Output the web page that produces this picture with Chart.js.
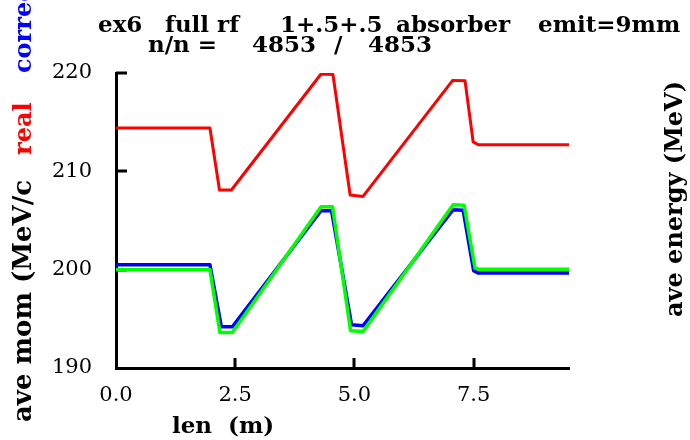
<!DOCTYPE html>
<html>
<head>
<meta charset="utf-8">
<script src="https://cdn.jsdelivr.net/npm/chart.js@4"></script>
<style>
  html, body { margin: 0; padding: 0; background: #ffffff; }
  #wrap { width: 690px; height: 440px; }
</style>
</head>
<body>
<div id="wrap"><canvas id="c" width="690" height="440"></canvas></div>
<script>
// ---- data ----
const realLen  = [0, 1.97, 2.17, 2.42, 4.30, 4.55, 4.91, 5.18, 7.06, 7.32, 7.49, 7.60, 9.5];
const realMom  = [214.4, 214.4, 208.1, 208.1, 219.9, 219.85, 207.6, 207.45, 219.25, 219.2, 213.0, 212.7, 212.7];

const corrLen  = [0, 1.97, 2.21, 2.44, 4.30, 4.52, 4.94, 5.18, 7.07, 7.28, 7.50, 7.60, 9.5];
const corrMom  = [200.5, 200.5, 194.2, 194.2, 206.0, 206.0, 194.4, 194.3, 206.1, 206.05, 199.9, 199.65, 199.65];

const enerLen  = [0, 1.97, 2.18, 2.44, 4.30, 4.54, 4.92, 5.18, 7.07, 7.30, 7.53, 7.60, 9.5];
const enerVal  = [200.0, 200.0, 193.6, 193.6, 206.4, 206.4, 193.8, 193.7, 206.6, 206.55, 200.15, 200.05, 200.05];

const xTicks = [0, 2.5, 5.0, 7.5];
const yTicks = [190, 200, 210, 220];

const titleLine1 = ["ex6", "full rf", "1+.5+.5", "absorber", "emit=9mm"];
const titleLine2 = ["n/n =", "4853", "/", "4853"];
const xTitle = "len  (m)";
const yTitleParts = ["ave mom (MeV/c", "real", "corrected"];
const y2Title = "ave energy (MeV)";

// ---- helpers ----
function pts(xs, ys) { return xs.map((x, i) => ({ x: x, y: ys[i] })); }

const SERIF = "'DejaVu Serif', 'Liberation Serif', serif";

const whiteBg = {
  id: 'whiteBg',
  beforeDraw(chart) {
    const ctx = chart.ctx;
    ctx.save();
    ctx.fillStyle = '#ffffff';
    ctx.fillRect(0, 0, chart.width, chart.height);
    ctx.restore();
  }
};

const innerTicks = {
  id: 'innerTicks',
  beforeDatasetsDraw(chart) {
    const ctx = chart.ctx;
    const a = chart.chartArea;
    const xs = chart.scales.x, ys = chart.scales.y;
    ctx.save();
    ctx.strokeStyle = '#000';
    ctx.lineWidth = 3;
    ctx.beginPath();
    yTicks.forEach(v => {
      if (v === ys.min) return;
      const p = Math.round(ys.getPixelForValue(v));
      ctx.moveTo(a.left, p);
      ctx.lineTo(a.left + 11, p);
    });
    xTicks.forEach(v => {
      if (v === xs.min) return;
      const p = Math.round(xs.getPixelForValue(v));
      ctx.moveTo(p, a.bottom);
      ctx.lineTo(p, a.bottom - 10);
    });
    ctx.stroke();
    ctx.restore();
  }
};

const texts = {
  id: 'texts',
  afterDraw(chart) {
    const ctx = chart.ctx;
    ctx.save();
    ctx.fillStyle = '#000';
    ctx.textBaseline = 'alphabetic';
    ctx.textAlign = 'left';
    // title line 1
    ctx.font = 'bold 23px ' + SERIF;
    const l1x = [98, 165, 280, 396, 538];
    titleLine1.forEach((t, i) => ctx.fillText(t, l1x[i], 32));
    // title line 2
    const l2x = [148, 252, 334, 368];
    titleLine2.forEach((t, i) => ctx.fillText(t, l2x[i], 52));
    // x axis title
    ctx.font = 'bold 23px ' + SERIF;
    ctx.fillText(xTitle, 172, 433);

    // left rotated title
    ctx.save();
    ctx.translate(31, 422);
    ctx.rotate(-Math.PI / 2);
    ctx.font = 'bold 26px ' + SERIF;
    ctx.fillStyle = '#000000';
    ctx.fillText(yTitleParts[0], 0, 0);
    ctx.font = 'bold 24px ' + SERIF;
    ctx.fillStyle = '#ff0000';
    ctx.fillText(yTitleParts[1], 267, 0);
    ctx.fillStyle = '#0000ff';
    ctx.fillText(yTitleParts[2], 349, 0);
    ctx.restore();

    // right rotated title
    ctx.save();
    ctx.translate(682, 317);
    ctx.rotate(-Math.PI / 2);
    ctx.font = 'bold 24px ' + SERIF;
    ctx.fillStyle = '#000000';
    ctx.fillText(y2Title, 0, 0);
    ctx.restore();

    ctx.restore();
  }
};

new Chart(document.getElementById('c'), {
  type: 'line',
  data: {
    datasets: [
      { label: 'real', data: pts(realLen, realMom), borderColor: '#ff0000', borderWidth: 3, order: 2 },
      { label: 'corrected', data: pts(corrLen, corrMom), borderColor: '#0000ff', borderWidth: 3.5, order: 1 },
      { label: 'energy', data: pts(enerLen, enerVal), borderColor: '#00ff00', borderWidth: 3.5, order: 0 }
    ]
  },
  options: {
    responsive: false,
    animation: false,
    devicePixelRatio: 1,
    parsing: true,
    elements: { point: { radius: 0 }, line: { tension: 0, fill: false, borderJoinStyle: 'round' } },
    layout: { padding: { left: 0, top: 73, right: 121, bottom: 0 } },
    plugins: { legend: { display: false }, tooltip: { enabled: false }, title: { display: false } },
    scales: {
      x: {
        type: 'linear', min: 0, max: 9.5,
        afterFit(s) { s.height = 72; },
        afterBuildTicks(s) { s.ticks = xTicks.map(v => ({ value: v })); },
        ticks: { autoSkip: false, maxRotation: 0, padding: 15, color: '#000',
                 font: { family: SERIF, size: 21 }, callback: v => Number(v).toFixed(1) },
        grid: { display: false, drawTicks: false },
        border: { display: true, color: '#000', width: 3 }
      },
      y: {
        type: 'linear', min: 190, max: 220,
        afterFit(s) { s.width = 116; },
        afterBuildTicks(s) { s.ticks = yTicks.map(v => ({ value: v })); },
        ticks: { autoSkip: false, padding: 24, color: '#000',
                 font: { family: SERIF, size: 21 }, callback: v => String(v) },
        grid: { display: false, drawTicks: false },
        border: { display: true, color: '#000', width: 3 }
      }
    }
  },
  plugins: [whiteBg, innerTicks, texts]
});
</script>
</body>
</html>
